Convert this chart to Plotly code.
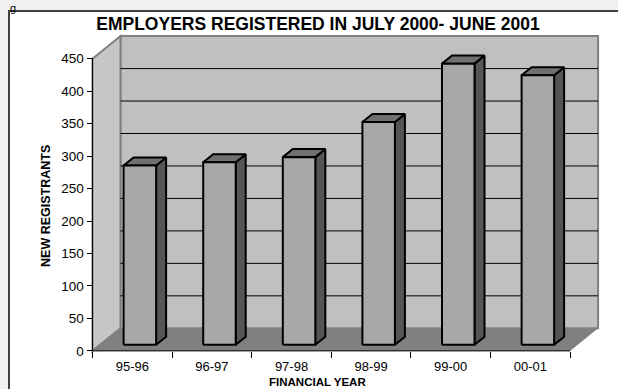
import plotly.graph_objects as go

# ---------------- data ----------------
categories = ["95-96", "96-97", "97-98", "98-99", "99-00", "00-01"]
registrants = [276, 281, 289, 343, 433, 415]
y_ticks = [0, 50, 100, 150, 200, 250, 300, 350, 400, 450]
title_text = "EMPLOYERS REGISTERED IN JULY 2000- JUNE 2001"
x_title = "FINANCIAL YEAR"
y_title = "NEW REGISTRANTS"

# ---------------- geometry (pixels) ----------------
W, H = 618, 389
X0, Y0 = 92.5, 352.7          # front-left corner of the floor (category -0.5, value 0)
CAT_PX = 79.6                 # pixels per category
VAL_PX = 0.6527               # pixels per value unit
DEPTH_DX, DEPTH_DY = 28.0, 22.7   # pixel offset of back plane
YMAX = 450
DOM_L, DOM_R, DOM_T, DOM_B = 86, 604, 32, 358

DXc = DEPTH_DX / CAT_PX       # depth offset in category units
DYv = DEPTH_DY / VAL_PX       # depth offset in value units
BAR_W = 32.5 / CAT_PX
D1 = 0.27                     # depth of bar front face
D2 = D1 + 10.0 / DEPTH_DX     # depth of bar back face

n = len(categories)
x_lo, x_hi = -0.5, n - 0.5


def P(xc, v, d):
    """project (category x, value, depth 0..1) onto front-plane data coords"""
    return xc + d * DXc, v + d * DYv


def poly_path(pts):
    return "M " + " L ".join(f"{x:.5f},{y:.5f}" for x, y in pts) + " Z"


FONT = "Liberation Sans, Arial, sans-serif"

fig = go.Figure()

shapes = []
# white chart frame
shapes.append(dict(type="rect", xref="paper", yref="paper",
                   x0=9 / W, x1=640 / W, y0=1 - 410 / H, y1=1 - 11 / H,
                   fillcolor="white", line=dict(color="#404040", width=2), layer="below"))

# back wall
back = [P(x_lo, 0, 1), P(x_hi, 0, 1), P(x_hi, YMAX, 1), P(x_lo, YMAX, 1)]
shapes.append(dict(type="path", xref="x", yref="y", path=poly_path(back),
                   fillcolor="#c0c0c0", line=dict(color="#808080", width=2), layer="below"))
# left wall
left = [P(x_lo, 0, 0), P(x_lo, 0, 1), P(x_lo, YMAX, 1), P(x_lo, YMAX, 0)]
shapes.append(dict(type="path", xref="x", yref="y", path=poly_path(left),
                   fillcolor="#c6c6c6", line=dict(color="#808080", width=2), layer="below"))
# gridlines on back wall
for v in y_ticks[1:-1]:
    a, b = P(x_lo, v, 1), P(x_hi, v, 1)
    shapes.append(dict(type="line", xref="x", yref="y", x0=a[0], y0=a[1], x1=b[0], y1=b[1],
                       line=dict(color="black", width=1), layer="below"))
# floor
floor = [P(x_lo, 0, 0), P(x_hi, 0, 0), P(x_hi, 0, 1), P(x_lo, 0, 1)]
shapes.append(dict(type="path", xref="x", yref="y", path=poly_path(floor),
                   fillcolor="#808080", line=dict(width=0), layer="below"))

# axis lines (front)
shapes.append(dict(type="line", xref="x", yref="y", x0=x_lo, y0=0, x1=x_lo, y1=YMAX,
                   line=dict(color="black", width=1), layer="above"))
shapes.append(dict(type="line", xref="x", yref="y", x0=x_lo, y0=0, x1=x_hi, y1=0,
                   line=dict(color="black", width=1), layer="above"))

# bars: front, side, top faces
fx, fy, sx, sy, tx, ty = [], [], [], [], [], []
for i, v in enumerate(registrants):
    l, r = i - BAR_W / 2, i + BAR_W / 2
    front = [P(l, 0, D1), P(r, 0, D1), P(r, v, D1), P(l, v, D1), P(l, 0, D1)]
    side = [P(r, 0, D1), P(r, 0, D2), P(r, v, D2), P(r, v, D1), P(r, 0, D1)]
    top = [P(l, v, D1), P(r, v, D1), P(r, v, D2), P(l, v, D2), P(l, v, D1)]
    for pts, xs, ys in ((front, fx, fy), (side, sx, sy), (top, tx, ty)):
        xs.extend([p[0] for p in pts] + [None])
        ys.extend([p[1] for p in pts] + [None])

for xs, ys, col in ((sx, sy, "#555555"), (tx, ty, "#707070"), (fx, fy, "#a8a8a8")):
    fig.add_trace(go.Scatter(x=xs, y=ys, mode="lines", fill="toself", fillcolor=col,
                             line=dict(color="black", width=2), hoverinfo="skip",
                             showlegend=False))

x_range = [x_lo - (X0 - DOM_L) / CAT_PX, x_lo + (DOM_R - X0) / CAT_PX]
y_range = [-(DOM_B - Y0) / VAL_PX, (Y0 - DOM_T) / VAL_PX]

fig.update_layout(
    width=W, height=H,
    margin=dict(l=0, r=0, t=0, b=0),
    paper_bgcolor="#f0f0f0",
    plot_bgcolor="rgba(0,0,0,0)",
    showlegend=False,
    font=dict(family=FONT, color="black"),
    title=dict(text=title_text, x=318 / W, y=1 - 24.5 / H, xanchor="center", yanchor="middle",
               xref="paper", yref="paper",
               font=dict(family=FONT, size=17.5, color="black", weight="bold")),
    xaxis=dict(domain=[DOM_L / W, DOM_R / W], range=x_range, anchor="free",
               position=1 - Y0 / H, showgrid=False, zeroline=False, showline=False,
               tickmode="array", tickvals=list(range(n)), ticktext=categories, ticks="",
               ticklabelstandoff=6,
               tickfont=dict(family=FONT, size=13, color="black"),
               minor=dict(tickmode="array", tickvals=[i - 0.5 for i in range(n + 1)],
                          ticks="outside", ticklen=6, tickwidth=1, tickcolor="black"),
               fixedrange=True),
    yaxis=dict(domain=[1 - DOM_B / H, 1 - DOM_T / H], range=y_range, anchor="free",
               position=X0 / W, showgrid=False, zeroline=False, showline=False,
               tickmode="array", tickvals=y_ticks, ticks="outside", ticklen=6,
               tickwidth=1, tickcolor="black",
               tickfont=dict(family=FONT, size=13.5, color="black"),
               fixedrange=True),
    shapes=shapes,
    annotations=[
        dict(text=x_title, xref="paper", yref="paper", x=317 / W, y=1 - 383.5 / H,
             xanchor="center", yanchor="middle", showarrow=False,
             font=dict(family=FONT, size=11.5, color="black", weight="bold")),
        dict(text=y_title, xref="paper", yref="paper", x=46 / W, y=1 - 207 / H,
             xanchor="center", yanchor="middle", showarrow=False, textangle=-90,
             font=dict(family=FONT, size=12.5, color="black", weight="bold")),
        dict(text="g", xref="paper", yref="paper", x=8 / W, y=1.0,
             xanchor="left", yanchor="top", showarrow=False,
             font=dict(family=FONT, size=11, color="black")),
    ],
)

fig.write_html("out.html")
